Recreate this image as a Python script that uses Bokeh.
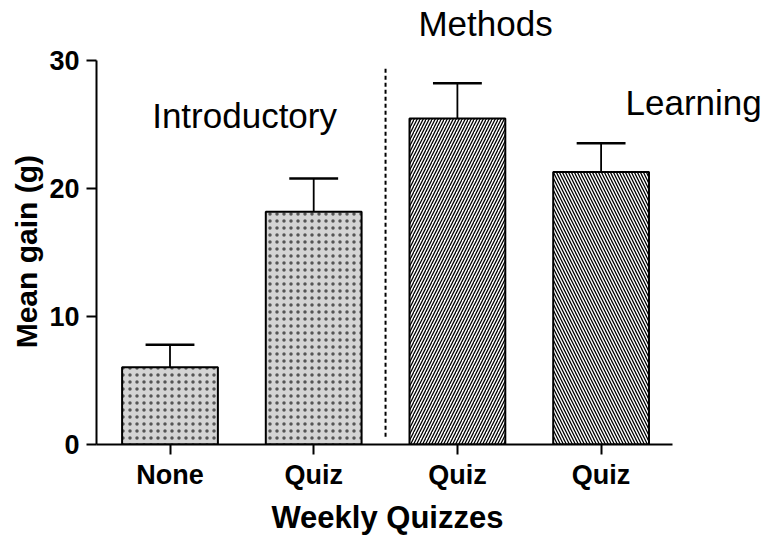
from bokeh.plotting import figure
from bokeh.models import Range1d, FixedTicker, Label, ColumnDataSource
from bokeh.embed import file_html
from bokeh.resources import INLINE

categories = ["None", "Quiz", "Quiz", "Quiz"]
means = [6.05, 18.2, 25.5, 21.3]
errors = [1.75, 2.6, 2.75, 2.25]
fills = ["#d4d4d4", "#d4d4d4", "white", "white"]
hatches = [".", ".", "/", "\\"]
hatch_scales = [7.0, 7.0, 6, 6]
hatch_weights = [1.0, 1.0, 1.3, 1.3]
hatch_alphas = [0.6, 0.6, 1.0, 1.0]
group_labels = ["Introductory", "Methods", "Learning"]
group_label_x = [0.876, 2.729, 4.17]
group_label_y = [25.75, 32.93, 26.75]
divider_x = 2.5
divider_y = [0.6, 29.5]
y_ticks = [0, 10, 20, 30]
y_max = 30
x_axis_end = 4.5
x_title = "Weekly Quizzes"
y_title = "Mean gain (g)"

# layout (pixels)
W, H = 764, 537
left_b, bottom_b = 96, 92
px_x = 143.7          # px per category
first_tick_px = 169.5
y30_px = 60.5         # pixel row of y = 30
frame_bottom = H - bottom_b
px_y = (frame_bottom - y30_px) / y_max

x_start = 1 - (first_tick_px - left_b) / px_x
x_end = 1 + (W - first_tick_px) / px_x
y_end = frame_bottom / px_y

xs = [i + 1 for i in range(len(categories))]
tops = [m + e for m, e in zip(means, errors)]

font = "Liberation Sans"
p = figure(width=W, height=H, output_backend="svg", toolbar_location=None,
           x_range=Range1d(x_start, x_end), y_range=Range1d(0, y_end),
           min_border_left=left_b, min_border_right=0, min_border_top=0,
           min_border_bottom=bottom_b)
p.outline_line_color = None
p.grid.visible = False
p.background_fill_color = "white"
p.border_fill_color = "white"

src = ColumnDataSource(dict(x=xs, top=means, fill=fills, hatch=hatches,
                            hs=hatch_scales, hw=hatch_weights, ha=hatch_alphas,
                            err_top=tops, cap_l=[x - 0.17 for x in xs],
                            cap_r=[x + 0.17 for x in xs]))

# error bars (upper only)
p.segment(x0="x", y0="top", x1="x", y1="err_top", source=src,
          line_color="black", line_width=1.8)
p.segment(x0="cap_l", y0="err_top", x1="cap_r", y1="err_top", source=src,
          line_color="black", line_width=2.5)

p.vbar(x="x", top="top", bottom=0, width=2/3, source=src,
       fill_color="fill", line_color="black", line_width=2,
       hatch_pattern="hatch", hatch_color="black", hatch_scale="hs",
       hatch_weight="hw", hatch_alpha="ha")

# divider
p.line(x=[divider_x, divider_x], y=divider_y, line_color="black",
       line_width=2, line_dash="4 3")

for t, x, y in zip(group_labels, group_label_x, group_label_y):
    p.add_layout(Label(x=x, y=y, text=t, text_font=font,
                       text_font_size="35px", text_color="black",
                       text_baseline="alphabetic"))

p.xaxis.ticker = FixedTicker(ticks=xs)
p.xaxis.major_label_overrides = {x: c for x, c in zip(xs, categories)}
p.xaxis.bounds = (x_start, x_axis_end)
p.yaxis.ticker = FixedTicker(ticks=y_ticks)
p.yaxis.bounds = (0, y_max)
for ax in (p.xaxis, p.yaxis):
    ax.axis_line_width = 2
    ax.axis_line_color = "black"
    ax.major_tick_line_width = 2
    ax.major_tick_line_color = "black"
    ax.major_tick_in = 0
    ax.major_tick_out = 10
    ax.minor_tick_line_color = None
    ax.major_label_text_font = font
    ax.major_label_text_font_style = "bold"
    ax.major_label_text_font_size = "27px"
    ax.major_label_text_color = "black"
    ax.axis_label_text_font = font
    ax.axis_label_text_font_style = "bold"
    ax.axis_label_text_color = "black"
p.xaxis.axis_label_text_font_size = "31px"
p.yaxis.axis_label_text_font_size = "30px"
# the frame is wider/taller than the axes' bounds (room for the group labels);
# non-breaking spaces keep the titles centred on the axes' drawn extent
p.xaxis.axis_label = x_title + "\u00a0" * 10
p.yaxis.axis_label = y_title + "\u00a0" * 7
p.xaxis.major_label_standoff = 5
p.yaxis.major_label_standoff = 7
p.xaxis.axis_label_standoff = 7
p.yaxis.axis_label_standoff = 3

open("out.html", "w").write(file_html(p, INLINE))
